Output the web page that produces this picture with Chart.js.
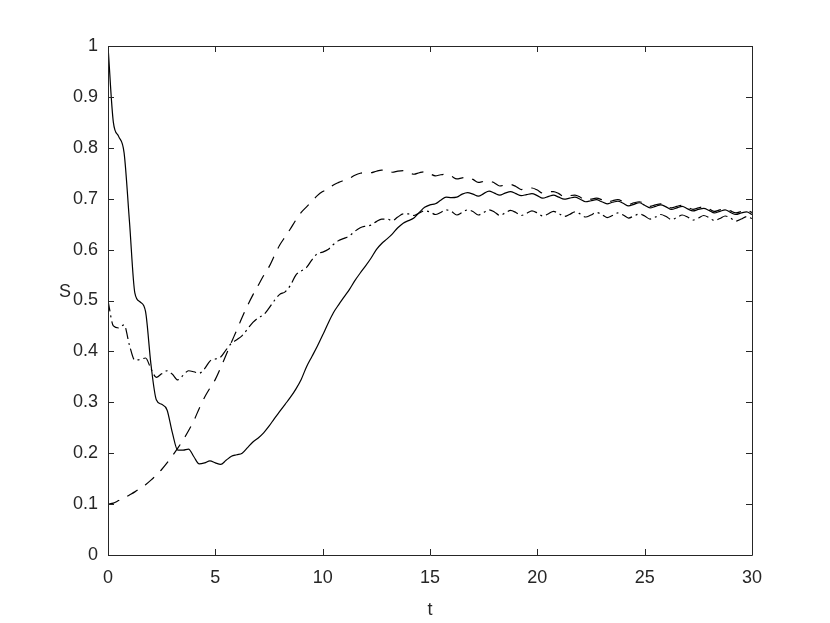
<!DOCTYPE html>
<html>
<head>
<meta charset="utf-8">
<script src="https://cdn.jsdelivr.net/npm/chart.js@4.4.0/dist/chart.umd.min.js"></script>
<style>
  html, body { margin: 0; padding: 0; background: #ffffff; }
  #wrap { width: 830px; height: 623px; position: relative; }
</style>
</head>
<body>
<div id="wrap"><canvas id="c" width="830" height="623"></canvas></div>
<script>
// time grid (t)
const tValues = [
  0, 0.25, 0.5, 0.75, 1, 1.25, 1.5, 1.75, 2, 2.25, 2.5, 2.75,
  3, 3.25, 3.5, 3.75, 4, 4.25, 4.5, 4.75, 5, 5.25, 5.5, 5.75,
  6, 6.25, 6.5, 6.75, 7, 7.25, 7.5, 7.75, 8, 8.25, 8.5, 8.75,
  9, 9.25, 9.5, 9.75, 10, 10.25, 10.5, 10.75, 11, 11.25, 11.5, 11.75,
  12, 12.25, 12.5, 12.75, 13, 13.25, 13.5, 13.75, 14, 14.25, 14.5, 14.75,
  15, 15.25, 15.5, 15.75, 16, 16.25, 16.5, 16.75, 17, 17.25, 17.5, 17.75,
  18, 18.25, 18.5, 18.75, 19, 19.25, 19.5, 19.75, 20, 20.25, 20.5, 20.75,
  21, 21.25, 21.5, 21.75, 22, 22.25, 22.5, 22.75, 23, 23.25, 23.5, 23.75,
  24, 24.25, 24.5, 24.75, 25, 25.25, 25.5, 25.75, 26, 26.25, 26.5, 26.75,
  27, 27.25, 27.5, 27.75, 28, 28.25, 28.5, 28.75, 29, 29.25, 29.5, 29.75, 30
];

// solid curve (starts at 1)
const solidS = [
  1.000, 0.850, 0.822, 0.790, 0.655, 0.515, 0.497, 0.478, 0.375, 0.305, 0.296, 0.285,
  0.240, 0.206, 0.206, 0.208, 0.193, 0.179, 0.181, 0.185, 0.181, 0.178, 0.186, 0.194,
  0.197, 0.200, 0.211, 0.222, 0.230, 0.240, 0.253, 0.268, 0.282, 0.296, 0.310, 0.326,
  0.345, 0.370, 0.390, 0.410, 0.432, 0.455, 0.476, 0.492, 0.507, 0.522, 0.539, 0.554,
  0.568, 0.583, 0.600, 0.612, 0.621, 0.631, 0.643, 0.652, 0.657, 0.662, 0.673, 0.683,
  0.688, 0.690, 0.697, 0.703, 0.702, 0.703, 0.709, 0.712, 0.709, 0.705, 0.710, 0.715,
  0.711, 0.707, 0.711, 0.714, 0.710, 0.706, 0.708, 0.710, 0.706, 0.701, 0.704, 0.707,
  0.703, 0.699, 0.701, 0.703, 0.699, 0.694, 0.696, 0.698, 0.694, 0.690, 0.693, 0.695,
  0.691, 0.686, 0.689, 0.692, 0.687, 0.682, 0.685, 0.688, 0.684, 0.679, 0.682, 0.685,
  0.680, 0.676, 0.679, 0.681, 0.677, 0.672, 0.675, 0.678, 0.673, 0.669, 0.672, 0.674, 0.669
];

// dashed curve (starts at 0.1)
const dashedS = [
  0.100, 0.102, 0.107, 0.112, 0.118, 0.124, 0.131, 0.138, 0.147, 0.157, 0.168, 0.181,
  0.195, 0.210, 0.226, 0.244, 0.264, 0.288, 0.310, 0.328, 0.345, 0.368, 0.393, 0.418,
  0.442, 0.467, 0.490, 0.511, 0.530, 0.549, 0.566, 0.588, 0.609, 0.625, 0.641, 0.658,
  0.673, 0.684, 0.695, 0.706, 0.714, 0.719, 0.727, 0.732, 0.736, 0.740, 0.746, 0.750,
  0.751, 0.751, 0.754, 0.756, 0.755, 0.752, 0.754, 0.755, 0.752, 0.748, 0.751, 0.753,
  0.749, 0.745, 0.747, 0.748, 0.744, 0.739, 0.741, 0.742, 0.738, 0.732, 0.734, 0.735,
  0.731, 0.725, 0.727, 0.728, 0.724, 0.718, 0.720, 0.721, 0.717, 0.711, 0.713, 0.714,
  0.710, 0.704, 0.706, 0.707, 0.703, 0.697, 0.699, 0.701, 0.698, 0.693, 0.696, 0.698,
  0.694, 0.689, 0.692, 0.694, 0.690, 0.685, 0.688, 0.690, 0.686, 0.682, 0.685, 0.687,
  0.683, 0.679, 0.682, 0.684, 0.680, 0.675, 0.678, 0.680, 0.676, 0.672, 0.675, 0.677, 0.673
];

// dash-dot curve (starts at 0.5)
const dashDotS = [
  0.500, 0.450, 0.446, 0.452, 0.412, 0.383, 0.384, 0.387, 0.366, 0.349, 0.356, 0.362,
  0.355, 0.344, 0.353, 0.362, 0.360, 0.357, 0.366, 0.381, 0.385, 0.389, 0.403, 0.416,
  0.423, 0.431, 0.444, 0.457, 0.466, 0.472, 0.485, 0.500, 0.512, 0.517, 0.530, 0.550,
  0.558, 0.565, 0.580, 0.592, 0.595, 0.600, 0.610, 0.618, 0.622, 0.627, 0.636, 0.643,
  0.646, 0.648, 0.655, 0.660, 0.660, 0.657, 0.664, 0.670, 0.670, 0.667, 0.672, 0.676,
  0.674, 0.669, 0.673, 0.678, 0.675, 0.668, 0.673, 0.678, 0.675, 0.668, 0.673, 0.678,
  0.674, 0.667, 0.672, 0.677, 0.673, 0.667, 0.671, 0.676, 0.672, 0.666, 0.670, 0.675,
  0.671, 0.665, 0.669, 0.674, 0.670, 0.664, 0.668, 0.673, 0.669, 0.663, 0.667, 0.672,
  0.668, 0.662, 0.666, 0.670, 0.666, 0.660, 0.664, 0.669, 0.665, 0.659, 0.663, 0.668,
  0.664, 0.658, 0.662, 0.667, 0.663, 0.657, 0.661, 0.666, 0.662, 0.656, 0.660, 0.665, 0.661
];

// tick labels
const xTicks = [0, 5, 10, 15, 20, 25, 30];
const yTicks = [0, 0.1, 0.2, 0.3, 0.4, 0.5, 0.6, 0.7, 0.8, 0.9, 1];
const xLabel = 't';
const yLabel = 'S';

const FONT = '"Liberation Sans", Arial, Helvetica, sans-serif';
const AXIS_COLOR = '#262626';

function pts(arr) { return tValues.map((t, i) => ({ x: t, y: arr[i] })); }

const boxTicksPlugin = {
  id: 'boxTicks',
  afterDraw(chart) {
    const ctx = chart.ctx;
    const a = chart.chartArea;
    const xs = chart.scales.x, ys = chart.scales.y;
    const L = 6;
    ctx.save();
    ctx.strokeStyle = AXIS_COLOR;
    ctx.lineWidth = 1;
    ctx.beginPath();
    ctx.rect(Math.round(a.left) + 0.5, Math.round(a.top) + 0.5,
             Math.round(a.right) - Math.round(a.left), Math.round(a.bottom) - Math.round(a.top));
    xTicks.forEach(v => {
      const px = Math.round(xs.getPixelForValue(v)) + 0.5;
      ctx.moveTo(px, a.bottom); ctx.lineTo(px, a.bottom - L);
      ctx.moveTo(px, a.top); ctx.lineTo(px, a.top + L);
    });
    yTicks.forEach(v => {
      const py = Math.round(ys.getPixelForValue(v)) + 0.5;
      ctx.moveTo(a.left, py); ctx.lineTo(a.left + L, py);
      ctx.moveTo(a.right, py); ctx.lineTo(a.right - L, py);
    });
    ctx.stroke();
    // axis titles
    ctx.fillStyle = AXIS_COLOR;
    ctx.font = '18px ' + FONT;
    ctx.textAlign = 'center';
    ctx.textBaseline = 'alphabetic';
    ctx.fillText(xLabel, (a.left + a.right) / 2, a.bottom + 60);
    ctx.fillText(yLabel, a.left - 43, (a.top + a.bottom) / 2 - 4);
    ctx.restore();
  }
};

const common = {
  borderColor: '#000000',
  borderWidth: 1.2,
  pointRadius: 0,
  fill: false,
  cubicInterpolationMode: 'monotone'
};

new Chart(document.getElementById('c'), {
  type: 'line',
  data: {
    datasets: [
      Object.assign({ label: 'solid', data: pts(solidS) }, common),
      Object.assign({ label: 'dashed', data: pts(dashedS), borderDash: [12, 9] }, common),
      Object.assign({ label: 'dashdot', data: pts(dashDotS), borderDash: [11, 4, 2, 4] }, common)
    ]
  },
  options: {
    responsive: false,
    animation: false,
    events: [],
    layout: { padding: { left: 0, top: 46, right: 78, bottom: 0 } },
    plugins: { legend: { display: false }, tooltip: { enabled: false } },
    scales: {
      x: {
        type: 'linear', min: 0, max: 30,
        afterFit: s => { s.height = 68; },
        afterBuildTicks: s => { s.ticks = xTicks.map(v => ({ value: v })); },
        grid: { display: false, drawTicks: false },
        border: { display: false },
        ticks: { color: AXIS_COLOR, font: { family: FONT, size: 18 }, padding: 12,
                 maxRotation: 0, autoSkip: false, callback: v => String(v) }
      },
      y: {
        type: 'linear', min: 0, max: 1,
        afterFit: s => { s.width = 108; },
        afterBuildTicks: s => { s.ticks = yTicks.map(v => ({ value: v })); },
        grid: { display: false, drawTicks: false },
        border: { display: false },
        ticks: { color: AXIS_COLOR, font: { family: FONT, size: 18 }, padding: 10,
                 autoSkip: false, callback: v => String(Number(v.toFixed(1))) }
      }
    }
  },
  plugins: [boxTicksPlugin]
});
</script>
</body>
</html>
